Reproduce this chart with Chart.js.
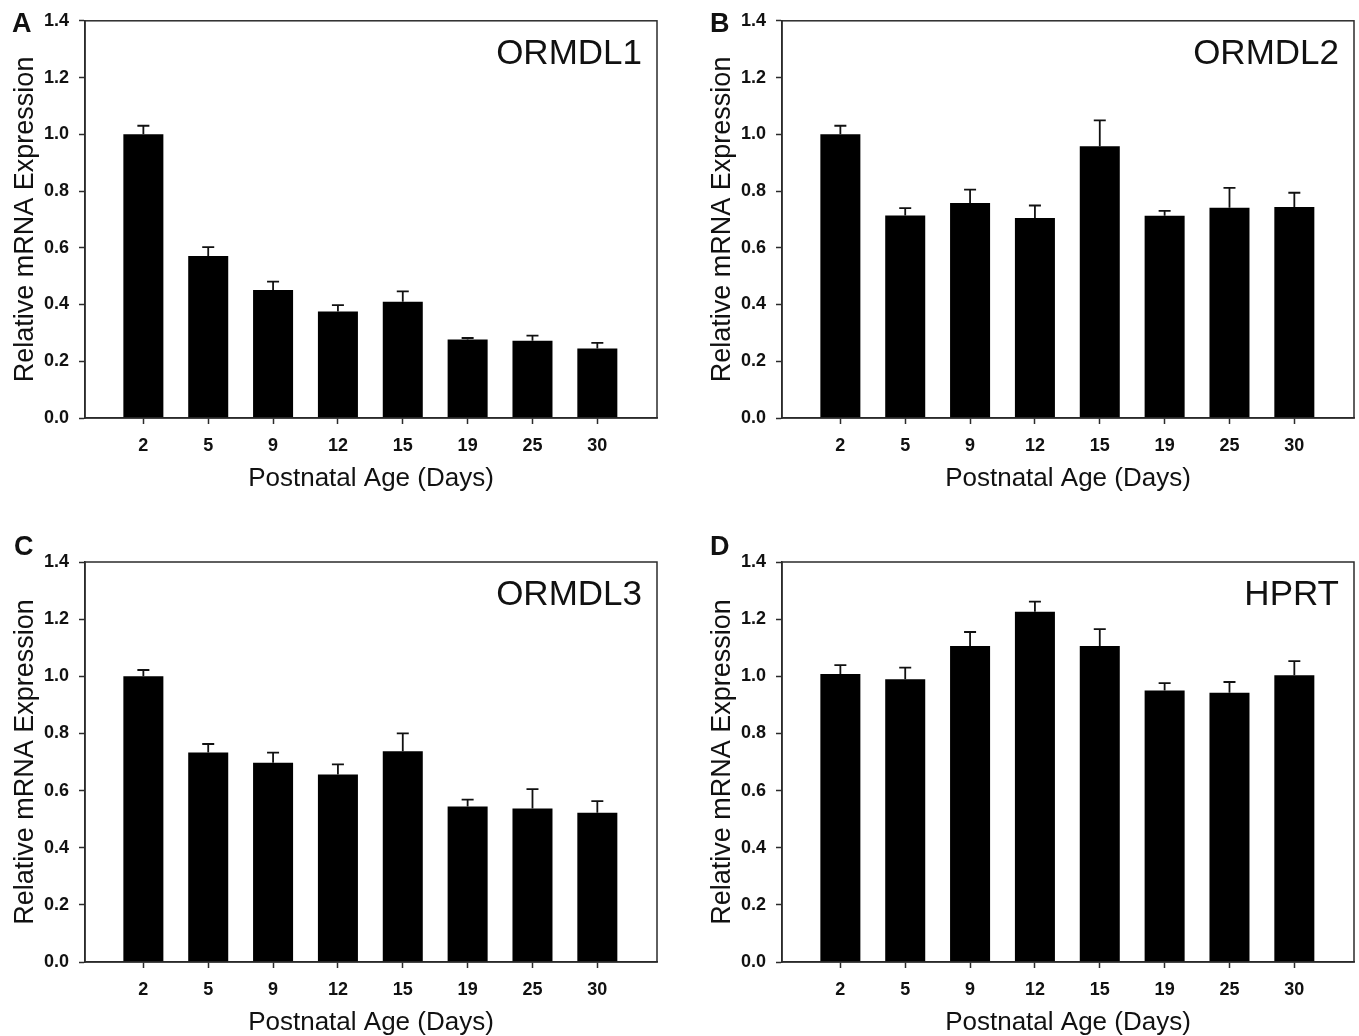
<!DOCTYPE html>
<html><head><meta charset="utf-8">
<script src="https://cdn.jsdelivr.net/npm/chart.js@4.4.1/dist/chart.umd.min.js"></script>
<style>
html,body{margin:0;padding:0;background:#fff;overflow:hidden;width:1359px;height:1036px;}
.panel{position:absolute;}
canvas{display:block;}
</style></head><body>
<div class="panel" style="left:0px;top:0px"><canvas id="cA" width="680" height="520"></canvas></div>
<div class="panel" style="left:697px;top:0px"><canvas id="cB" width="662" height="520"></canvas></div>
<div class="panel" style="left:0px;top:530px"><canvas id="cC" width="680" height="534"></canvas></div>
<div class="panel" style="left:697px;top:530px"><canvas id="cD" width="662" height="534"></canvas></div>
<script>
// ---- data ----
const days = ['2', '5', '9', '12', '15', '19', '25', '30'];
const yTicks = [0, 0.2, 0.4, 0.6, 0.8, 1.0, 1.2, 1.4];
const xTitle = 'Postnatal Age (Days)';
const yTitle = 'Relative mRNA Expression';

const ormdl1Mean = [1.00, 0.571, 0.451, 0.375, 0.410, 0.277, 0.272, 0.245];
const ormdl1Sem  = [0.030, 0.031, 0.030, 0.023, 0.036, 0.005, 0.018, 0.020];

const ormdl2Mean = [1.00, 0.714, 0.758, 0.705, 0.958, 0.713, 0.741, 0.744];
const ormdl2Sem  = [0.030, 0.026, 0.047, 0.044, 0.091, 0.017, 0.070, 0.050];

const ormdl3Mean = [1.00, 0.733, 0.697, 0.656, 0.738, 0.544, 0.537, 0.522];
const ormdl3Sem  = [0.022, 0.030, 0.036, 0.036, 0.062, 0.024, 0.068, 0.041];

const hprtMean = [1.008, 0.990, 1.106, 1.226, 1.106, 0.950, 0.942, 1.004];
const hprtSem  = [0.031, 0.040, 0.049, 0.035, 0.059, 0.026, 0.038, 0.049];

// ---- plugins ----
const FONT = '"Liberation Sans", Arial, Helvetica, sans-serif';
const INK = '#111';
const AXIS = '#2b2b2b';

const errBars = {
  id: 'errbars',
  afterDatasetsDraw(chart, args, opts) {
    const ctx = chart.ctx, xs = chart.scales.x, ys = chart.scales.y;
    const means = chart.data.datasets[0].data;
    ctx.save();
    ctx.strokeStyle = INK;
    ctx.lineWidth = 1.8;
    means.forEach((pt, i) => {
      const x = xs.getPixelForValue(pt.x);
      const yb = ys.getPixelForValue(pt.y);
      const yt = ys.getPixelForValue(pt.y + opts.sem[i]);
      ctx.beginPath();
      ctx.moveTo(x, yb);
      ctx.lineTo(x, yt);
      ctx.moveTo(x - 6, yt);
      ctx.lineTo(x + 6, yt);
      ctx.stroke();
    });
    ctx.restore();
  }
};

const frame = {
  id: 'frame',
  afterDraw(chart, args, opts) {
    const {ctx, chartArea: a} = chart;
    ctx.save();
    ctx.strokeStyle = AXIS;
    ctx.lineWidth = 1.5;
    ctx.strokeRect(a.left, a.top, a.right - a.left, a.bottom - a.top);
    ctx.fillStyle = INK;
    ctx.font = '35px ' + FONT;
    ctx.textAlign = 'right';
    ctx.textBaseline = 'alphabetic';
    ctx.fillText(opts.gene, a.right - 15, a.top + 43);
    ctx.font = 'bold 27px ' + FONT;
    ctx.textAlign = 'left';
    ctx.fillText(opts.letter, opts.lx, opts.ly);
    ctx.restore();
  }
};

function makePanel(id, means, sems, gene, letter, lx, ly, padTop, padRight) {
  new Chart(document.getElementById(id), {
    type: 'bar',
    data: {
      datasets: [{
        data: means.map((v, i) => ({x: i + 1, y: v})),
        backgroundColor: '#000',
        borderWidth: 0,
        barPercentage: 0.617,
        categoryPercentage: 1.0
      }]
    },
    options: {
      responsive: false,
      animation: false,
      events: [],
      layout: {padding: {top: padTop, right: padRight, left: 0, bottom: 0}},
      plugins: {
        legend: {display: false},
        tooltip: {enabled: false},
        errbars: {sem: sems},
        frame: {gene: gene, letter: letter, lx: lx, ly: ly}
      },
      scales: {
        x: {
          type: 'linear',
          min: 0.1,
          max: 8.92,
          offset: false,
          afterBuildTicks: s => { s.ticks = days.map((d, i) => ({value: i + 1})); },
          afterFit: s => { s.height = 102; },
          grid: {offset: false, drawOnChartArea: false, drawTicks: true, tickLength: 6, tickWidth: 1.5, tickColor: AXIS},
          border: {display: true, color: AXIS, width: 1.5},
          ticks: {
            autoSkip: false, maxRotation: 0, padding: 11,
            color: INK,
            font: {family: FONT, size: 18, weight: 'bold'},
            callback: (v) => days[Math.round(v) - 1]
          },
          title: {display: true, text: xTitle, color: INK,
                  font: {family: FONT, size: 26}, padding: {top: 0, bottom: 26}}
        },
        y: {
          type: 'linear',
          min: 0,
          max: 1.4,
          afterBuildTicks: s => { s.ticks = yTicks.map(v => ({value: v})); },
          afterFit: s => { s.width = 85; },
          grid: {drawOnChartArea: false, drawTicks: true, tickLength: 6, tickWidth: 1.5, tickColor: AXIS},
          border: {display: true, color: AXIS, width: 1.5},
          ticks: {
            padding: 10, color: INK,
            font: {family: FONT, size: 18, weight: 'bold'},
            callback: (v) => Number(v).toFixed(1)
          },
          title: {display: true, text: yTitle, color: INK,
                  font: {family: FONT, size: 27}, padding: {top: 9, bottom: 0}}
        }
      }
    },
    plugins: [errBars, frame]
  });
}

makePanel('cA', ormdl1Mean, ormdl1Sem, 'ORMDL1', 'A', 12, 32, 18, 23);
makePanel('cB', ormdl2Mean, ormdl2Sem, 'ORMDL2', 'B', 13, 32, 18, 5);
makePanel('cC', ormdl3Mean, ormdl3Sem, 'ORMDL3', 'C', 14, 25, 32, 23);
makePanel('cD', hprtMean, hprtSem, 'HPRT', 'D', 13, 25, 32, 5);
</script>
</body></html>
